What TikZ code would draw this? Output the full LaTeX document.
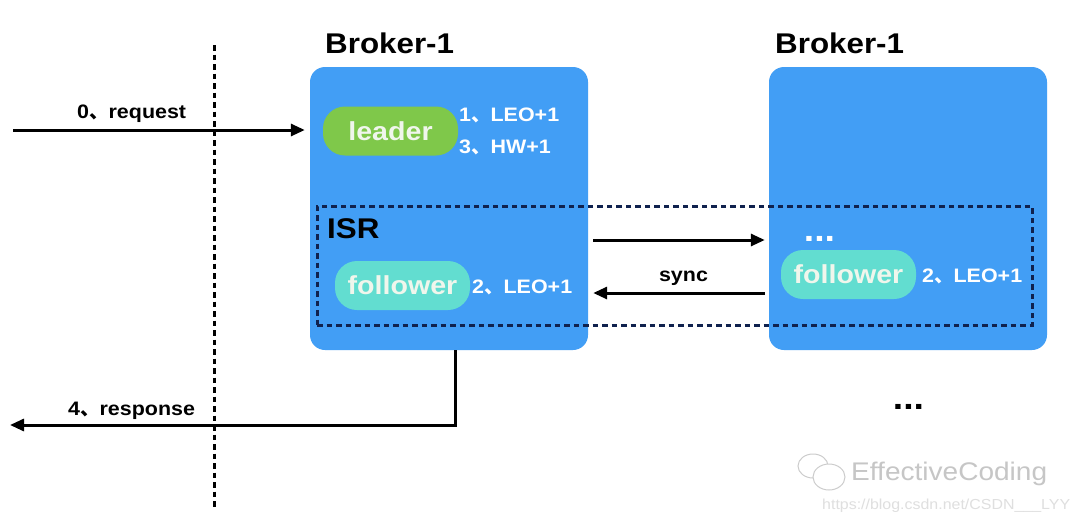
\documentclass[tikz,border=0pt]{standalone}
\usepackage{fontspec}
\setmainfont{Liberation Sans}[FakeStretch=1.1]
\newfontfamily\cjk{Noto Sans CJK SC}
\usepackage{xcolor}
\usetikzlibrary{arrows.meta}
\newcommand{\dun}{{\cjk 、}}
\definecolor{brokerblue}{RGB}{66,158,245}
\definecolor{leadergreen}{RGB}{127,200,74}
\definecolor{followerteal}{RGB}{98,221,208}
\definecolor{isrnavy}{RGB}{16,34,78}
\definecolor{pilltext}{RGB}{240,246,236}
\tikzset{
  brokerbox/.style={fill=brokerblue, rounded corners=15pt, minimum width=278pt, minimum height=283pt, inner sep=0pt},
  pill/.style={rounded corners=22pt, minimum width=135pt, minimum height=49pt, inner sep=0pt, text=pilltext, font=\fontsize{26}{30}\selectfont\bfseries},
  title/.style={inner sep=0pt, anchor=base west, font=\fontsize{28.5}{33}\selectfont\bfseries},
  note/.style={inner sep=0pt, anchor=base west, text=white, font=\fontsize{19.5}{23}\selectfont\bfseries},
  dots/.style={inner sep=0pt, anchor=base, font=\fontsize{34}{40}\selectfont\bfseries},
  conn/.style={line width=3pt, -{Triangle[length=14pt,width=12pt]}},
  isrbox/.style={draw=isrnavy, line width=3pt, dash pattern=on 5.5pt off 4pt, minimum width=715pt, minimum height=119pt, inner sep=0pt},
  divider/.style={line width=3pt, dash pattern=on 5.5pt off 4pt}
}
\begin{document}
\begin{tikzpicture}[x=1pt,y=1pt,yscale=-1,xscale=1]
\path[use as bounding box, fill=white] (0,0) rectangle (1080,523);

% Brokers
\node[brokerbox] (b1) at (449,208.5) {};
\node[brokerbox] (b2) at (908,208.5) {};
\node[title] (b1 title) at (325,53) {Broker-1};
\node[title] (b2 title) at (775,53) {Broker-1};

% ISR
\node[isrbox] (isr) at (674.5,265.5) {};
\node[title] (isr title) at (327,238) {ISR};

% leader and followers
\node[pill, fill=leadergreen] (leader) at (390.5,131) {leader};
\node[note] (leo leader) at (459,121) {1\dun LEO+1};
\node[note] (hw leader) at (459,153) {3\dun HW+1};
\node[pill, fill=followerteal] (follower a) at (402.5,285.5) {follower};
\node[note] (leo a) at (472,293) {2\dun LEO+1};
\node[dots, text=white] (more isr) at (819.5,241) {...};
\node[pill, fill=followerteal] (follower b) at (848.5,274.5) {follower};
\node[note] (leo b) at (922,282) {2\dun LEO+1};
\node[dots] (more brokers) at (908.5,409) {...};

% client side
\draw[divider] (214,45) -- (214,508);
\coordinate (req start) at (13,130);
\draw[conn, shorten >=5pt] (req start) -- (b1.west |- req start);
\node[note, text=black] (req) at (77,118) {0\dun request};
\coordinate (resp corner) at (455,425);
\coordinate (resp end) at (10,425);
\draw[conn] (b1.south -| resp corner) -- (resp corner) -- (resp end);
\node[note, text=black] (resp) at (68,415) {4\dun response};

% sync
\coordinate (sync out) at (0,240);
\coordinate (sync back) at (0,293);
\draw[conn, shorten <=5pt, shorten >=4pt] (b1.east |- sync out) -- (b2.west |- sync out);
\draw[conn, shorten <=4pt, shorten >=5pt] (b2.west |- sync back) -- (b1.east |- sync back);
\node[note, text=black, anchor=base] (sync) at (683.5,281) {sync};

% watermark
\draw[gray!40, line width=1pt] (813,466) ellipse (15 and 12);
\filldraw[fill=white, draw=gray!40, line width=1pt] (829,477) ellipse (16 and 13);
\node[inner sep=0pt, anchor=base west, text=gray!45, font=\fontsize{25.5}{30}\selectfont] (wm name) at (851,480) {EffectiveCoding};
\node[inner sep=0pt, anchor=base west, text=gray!25, font=\fontsize{14.5}{18}\selectfont] (wm url) at (822,509) {https://blog.csdn.net/CSDN\_\_\_LYY};
\end{tikzpicture}
\end{document}
